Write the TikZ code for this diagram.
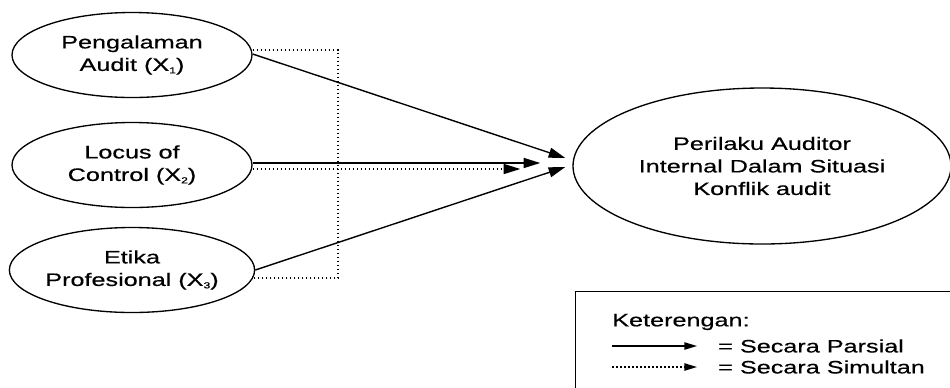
\documentclass[tikz,border=0pt]{standalone}
\usepackage{fontspec}
\setmainfont[FakeStretch=1.4,FakeBold=0.5]{Liberation Sans}
\usetikzlibrary{shapes.geometric,arrows.meta,calc}
\newcommand{\subx}[1]{\raisebox{-0.25ex}{\fontsize{6.5pt}{6.5pt}\selectfont #1}}
\begin{document}
\begin{tikzpicture}[x=0.75pt,y=-0.75pt,
  every node/.style={font=\fontsize{13.5pt}{16.9pt}\selectfont},
  varbox/.style={draw,line width=1pt,ellipse,inner sep=0pt,minimum width=180pt,minimum height=63.75pt,align=center},
  bigbox/.style={draw,line width=1pt,ellipse,inner sep=0pt,minimum width=283.5pt,minimum height=117pt,align=center},
  parsial/.style={line width=1.05pt,-{Triangle[length=12.5pt,width=7.5pt]}},
  simultan/.style={line width=1.05pt,dash pattern=on 1.2pt off 1.8pt},
  simarrow/.style={simultan,-{Triangle[length=12.5pt,width=7.5pt]}},
  legpar/.style={line width=1pt,-{Triangle[length=9.5pt,width=5.5pt]}},
  legsim/.style={simultan,-{Triangle[length=9.5pt,width=5.5pt]}}]
\clip (0,0) rectangle (950,387);
\fill[white] (0,0) rectangle (950,387);

\node[varbox] (e1) at (132,55) {Pengalaman\\Audit (X\subx{1})};
\node[varbox] (e2) at (132,165) {Locus of\\Control (X\subx{2})};
\node[varbox] (e3) at (132,270) {Etika\\Profesional (X\subx{3})};
\node[bigbox] (y) at (762,166) {Perilaku Auditor\\Internal Dalam Situasi\\Konflik audit};

\coordinate (t1) at ($(y.west)+(-7,-8)$);
\coordinate (t2) at ($(y.west)+(-32,-3)$);
\coordinate (t3) at ($(y.west)+(-52,3)$);
\coordinate (t4) at ($(y.west)+(-7,1)$);
\coordinate (v) at (338,50);

% simultaneous bracket
\draw[simultan] ($(e1.east)+(0,-5)$) -| (v) |- ($(e3.east)+(-2,8)$);
% arrows
\draw[parsial] ($(e1.east)+(0,-1)$) -- (t1);
\draw[parsial] ($(e2.east)+(0,-2)$) -- (t2);
\draw[simarrow] ($(e2.east)+(0,4)$) -- (t3);
\draw[parsial] (e3.east) -- (t4);

% legend
\node[draw,line width=0.9pt,anchor=north west,inner sep=0pt,minimum width=290pt,minimum height=100pt] (lg) at (575,291) {};
\node[anchor=west,inner sep=0pt] (kt) at (612,322) {Keterengan:};
\coordinate (la1) at (612,346);
\coordinate (lb1) at (697,346);
\coordinate (la2) at (612,367);
\coordinate (lb2) at (697,367);
\draw[legpar] (la1) -- (lb1);
\draw[legsim] (la2) -- (lb2);
\node[anchor=west,inner sep=0pt] (lp) at (718,346) {= Secara Parsial};
\node[anchor=west,inner sep=0pt] (ls) at (718,367) {= Secara Simultan};
\end{tikzpicture}
\end{document}
